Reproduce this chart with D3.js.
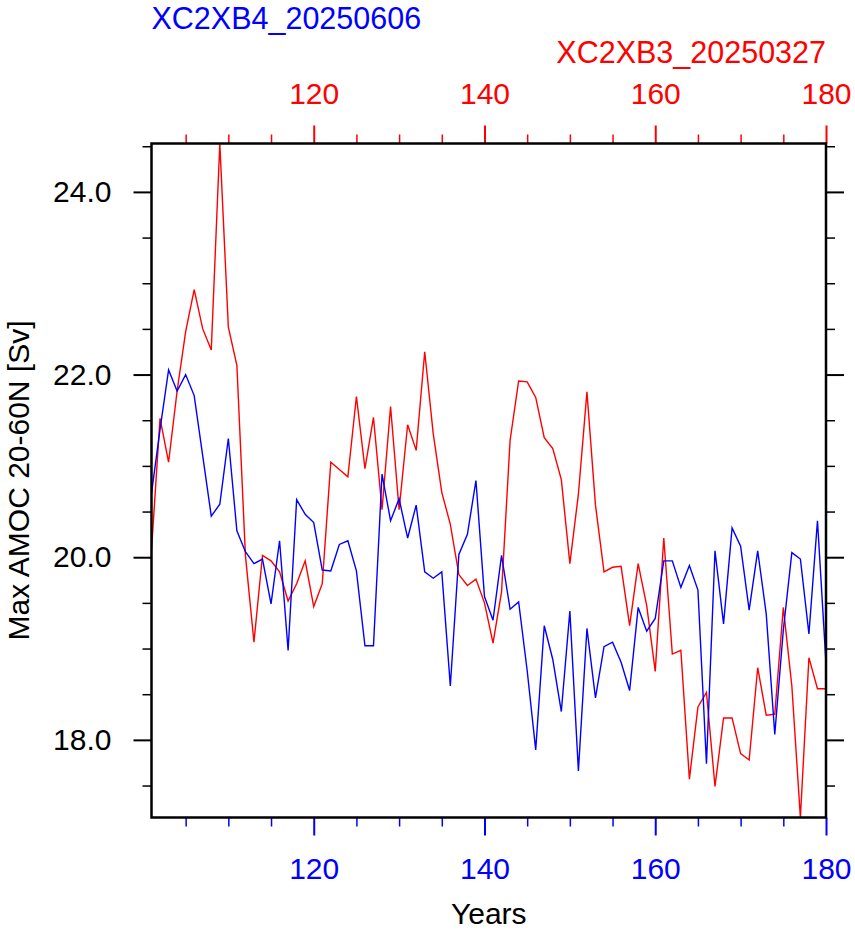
<!DOCTYPE html>
<html>
<head>
<meta charset="utf-8">
<script src="https://cdn.jsdelivr.net/npm/d3@7"></script>
<style>
  html, body { margin: 0; padding: 0; background: #fff; }
  svg { display: block; }
  text { font-family: "Liberation Sans", Arial, Helvetica, sans-serif; }
</style>
</head>
<body>
<svg id="chart" width="855" height="931"></svg>
<script>
// ---- data ----
const years = [101,102,103,104,105,106,107,108,109,110,
  111,112,113,114,115,116,117,118,119,120,
  121,122,123,124,125,126,127,128,129,130,
  131,132,133,134,135,136,137,138,139,140,
  141,142,143,144,145,146,147,148,149,150,
  151,152,153,154,155,156,157,158,159,160,
  161,162,163,164,165,166,167,168,169,170,
  171,172,173,174,175,176,177,178,179,180];

const seriesBlueName = "XC2XB4_20250606";
const seriesBlue = [20.70,21.40,22.05,21.82,22.00,21.77,21.11,20.45,20.58,21.30,
  20.29,20.06,19.93,19.98,19.49,20.18,18.98,20.63,20.47,20.38,
  19.86,19.85,20.14,20.18,19.85,19.03,19.03,20.91,20.40,20.64,
  20.21,20.57,19.84,19.77,19.84,18.59,20.03,20.25,20.84,19.57,
  19.31,20.02,19.43,19.51,18.76,17.89,19.25,18.88,18.31,19.41,
  17.66,19.22,18.46,19.02,19.07,18.85,18.54,19.45,19.19,19.33,
  19.96,19.96,19.67,19.91,19.64,17.74,20.07,19.27,20.32,20.12,
  19.42,20.07,19.38,18.06,19.20,20.05,19.98,19.16,20.40,18.84];

const seriesRedName = "XC2XB3_20250327";
const seriesRed = [20.08,21.52,21.04,21.82,22.47,22.93,22.50,22.27,24.53,22.52,
  22.10,20.02,19.07,20.02,19.96,19.84,19.52,19.71,19.96,19.46,
  19.71,21.04,20.96,20.88,21.76,20.97,21.53,20.52,21.65,20.52,
  21.45,21.17,22.25,21.35,20.71,20.36,19.81,19.69,19.76,19.50,
  19.06,19.62,21.28,21.93,21.92,21.75,21.31,21.19,20.85,19.93,
  20.69,21.81,20.57,19.84,19.89,19.90,19.25,19.93,19.47,18.75,
  20.21,18.94,18.98,17.57,18.36,18.52,17.49,18.24,18.24,17.85,
  17.78,18.79,18.27,18.28,19.45,18.59,17.15,18.90,18.56,18.56];

const xMajorTicks = [120,140,160,180];
const xMinorTicks = [105,110,115,125,130,135,145,150,155,165,170,175];
const yMajorTicks = [18,20,22,24];
const yMinorTicks = [17.5,18.5,19,19.5,20.5,21,21.5,22.5,23,23.5,24.5];
const yTitle = "Max AMOC 20-60N [Sv]";
const xTitle = "Years";

// ---- layout ----
const L = 151.5, R = 826, T = 143.5, B = 817.5;
const BLUE = "#0000ff", RED = "#ff0000";
const svg = d3.select("#chart");

const x = d3.scaleLinear().domain(d3.extent(years)).range([L, R]);
const yExt = d3.extent(seriesBlue.concat(seriesRed));
const y = d3.scaleLinear().domain(yExt).range([B, T]);

function styleAxis(g, color, width, fontColor) {
  g.select(".domain").remove();
  g.selectAll(".tick line").attr("stroke", color).attr("stroke-width", width);
  g.selectAll(".tick text")
    .attr("fill", fontColor || color)
    .style("font-size", "30px")
    .style("font-family", "'Liberation Sans', Arial, Helvetica, sans-serif");
}

// bottom axis (blue)
svg.append("g").attr("transform", `translate(0,${B})`)
  .call(d3.axisBottom(x).tickValues(xMinorTicks).tickSize(9).tickFormat(""))
  .call(g => styleAxis(g, BLUE, 1.5));
svg.append("g").attr("transform", `translate(0,${B})`)
  .call(d3.axisBottom(x).tickValues(xMajorTicks).tickSize(18).tickPadding(22).tickFormat(d3.format("d")))
  .call(g => styleAxis(g, BLUE, 2));

// top axis (red)
svg.append("g").attr("transform", `translate(0,${T})`)
  .call(d3.axisTop(x).tickValues(xMinorTicks).tickSize(9).tickFormat(""))
  .call(g => styleAxis(g, RED, 1.5));
svg.append("g").attr("transform", `translate(0,${T})`)
  .call(d3.axisTop(x).tickValues(xMajorTicks).tickSize(18).tickPadding(22).tickFormat(d3.format("d")))
  .call(g => styleAxis(g, RED, 2));

// left axis
svg.append("g").attr("transform", `translate(${L},0)`)
  .call(d3.axisLeft(y).tickValues(yMinorTicks).tickSize(9).tickFormat(""))
  .call(g => styleAxis(g, "#000", 1.5));
svg.append("g").attr("transform", `translate(${L},0)`)
  .call(d3.axisLeft(y).tickValues(yMajorTicks).tickSize(18).tickPadding(22).tickFormat(d3.format(".1f")))
  .call(g => styleAxis(g, "#000", 2));

// right axis
svg.append("g").attr("transform", `translate(${R},0)`)
  .call(d3.axisRight(y).tickValues(yMinorTicks).tickSize(9).tickFormat(""))
  .call(g => styleAxis(g, "#000", 1.5));
svg.append("g").attr("transform", `translate(${R},0)`)
  .call(d3.axisRight(y).tickValues(yMajorTicks).tickSize(18).tickFormat(""))
  .call(g => styleAxis(g, "#000", 2));

// lines
const line = d3.line().x((d, i) => x(years[i])).y(d => y(d));
svg.append("path").datum(seriesRed)
  .attr("d", line).attr("fill", "none").attr("stroke", RED)
  .attr("stroke-width", 1.4).attr("stroke-linejoin", "miter");
svg.append("path").datum(seriesBlue)
  .attr("d", line).attr("fill", "none").attr("stroke", BLUE)
  .attr("stroke-width", 1.4).attr("stroke-linejoin", "miter");

// frame
svg.append("rect").attr("x", L).attr("y", T).attr("width", R - L).attr("height", B - T)
  .attr("fill", "none").attr("stroke", "#000").attr("stroke-width", 2.5);

// titles
svg.append("text").attr("x", L).attr("y", 28.5)
  .attr("fill", BLUE).style("font-size", "30.5px").text(seriesBlueName);
svg.append("text").attr("x", R).attr("y", 62.5).attr("text-anchor", "end")
  .attr("fill", RED).style("font-size", "30.5px").text(seriesRedName);

svg.append("text").attr("x", (L + R) / 2).attr("y", 924).attr("text-anchor", "middle")
  .attr("fill", "#000").style("font-size", "30px").text(xTitle);

svg.append("text")
  .attr("transform", `translate(29,${(T + B) / 2}) rotate(-90)`)
  .attr("text-anchor", "middle").attr("fill", "#000")
  .style("font-size", "30px").text(yTitle);
</script>
</body>
</html>
